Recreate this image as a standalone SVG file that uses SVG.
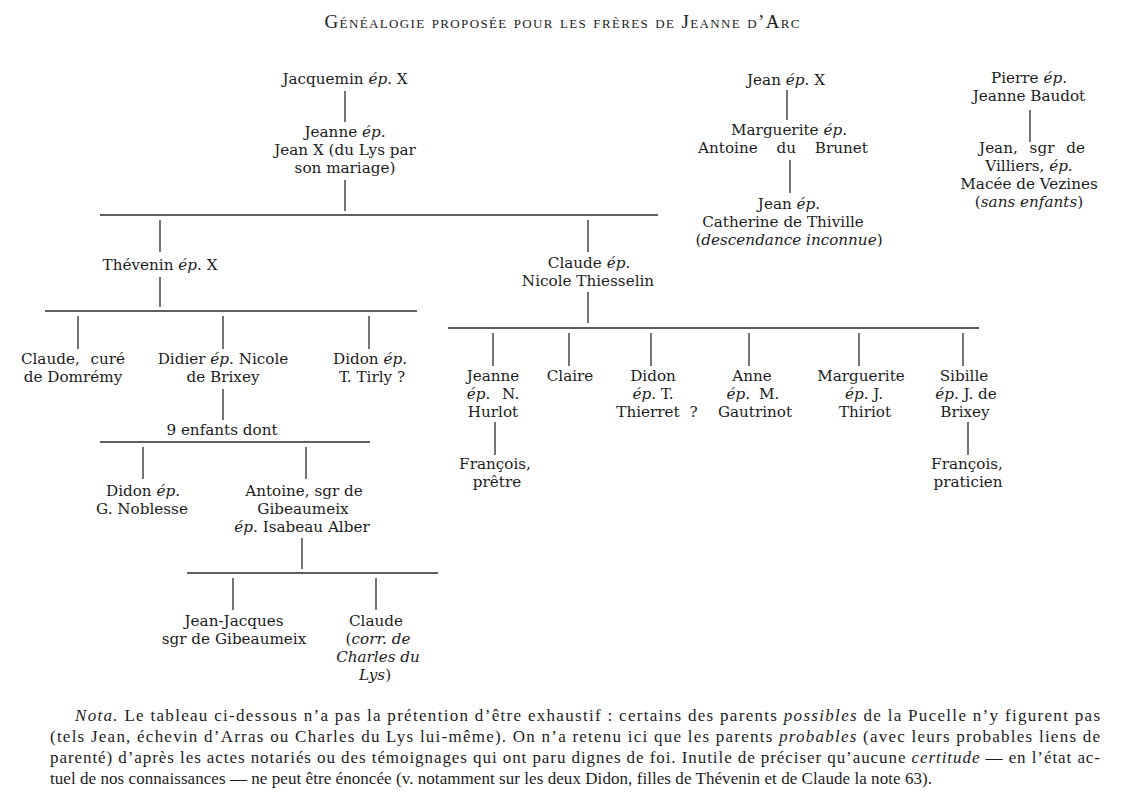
<svg xmlns="http://www.w3.org/2000/svg" width="1126" height="800" viewBox="0 0 1126 800">
<style>
.t{font-family:"DejaVu Serif","Liberation Serif",serif;font-size:15.2px;text-anchor:middle;fill:#1c1c1c}
.i{font-style:italic}
.title{font-family:"Liberation Serif","DejaVu Serif",serif;font-size:19px;font-variant:small-caps;fill:#1c1c1c;text-anchor:middle}
.n{font-family:"Liberation Serif","DejaVu Serif",serif;font-size:17px;fill:#1c1c1c}
#connectors line{stroke:#2a2a2a;stroke-width:1.3}
</style>
<rect width="1126" height="800" fill="#ffffff"/>
<text class="title" x="562" y="28" textLength="475" lengthAdjust="spacing">Généalogie proposée pour les frères de Jeanne d’Arc</text>

<g id="connectors">
<line x1="345" y1="91" x2="345" y2="122"/>
<line x1="345" y1="180" x2="345" y2="211"/>
<line x1="100" y1="215" x2="658" y2="215"/>
<line x1="160" y1="220" x2="160" y2="252"/>
<line x1="588" y1="220" x2="588" y2="252"/>
<line x1="160" y1="277" x2="160" y2="307"/>
<line x1="45" y1="311" x2="417" y2="311"/>
<line x1="78" y1="316" x2="78" y2="349"/>
<line x1="223" y1="316" x2="223" y2="349"/>
<line x1="369" y1="316" x2="369" y2="349"/>
<line x1="223" y1="389" x2="223" y2="420"/>
<line x1="100" y1="442" x2="370" y2="442"/>
<line x1="143" y1="447" x2="143" y2="479"/>
<line x1="306" y1="447" x2="306" y2="479"/>
<line x1="302" y1="538" x2="302" y2="569"/>
<line x1="187" y1="573" x2="438" y2="573"/>
<line x1="233" y1="578" x2="233" y2="610"/>
<line x1="376" y1="578" x2="376" y2="610"/>
<line x1="588" y1="292" x2="588" y2="323"/>
<line x1="448" y1="328" x2="979" y2="328"/>
<line x1="493" y1="333" x2="493" y2="366"/>
<line x1="569" y1="333" x2="569" y2="366"/>
<line x1="651" y1="333" x2="651" y2="366"/>
<line x1="749" y1="333" x2="749" y2="366"/>
<line x1="859" y1="333" x2="859" y2="366"/>
<line x1="963" y1="333" x2="963" y2="366"/>
<line x1="495" y1="422" x2="495" y2="455"/>
<line x1="968" y1="422" x2="968" y2="455"/>
<line x1="787" y1="90" x2="787" y2="120"/>
<line x1="790" y1="160" x2="790" y2="193"/>
<line x1="1030" y1="110" x2="1030" y2="142"/>
</g>

<g id="jacquemin"><text class="t" x="345" y="84">Jacquemin <tspan class="i">ép</tspan>. X</text></g>
<g id="jeanne"><text class="t" x="345" y="137">Jeanne <tspan class="i">ép</tspan>.</text><text class="t" x="345" y="155">Jean X (du Lys par</text><text class="t" x="345" y="173">son mariage)</text></g>
<g id="thevenin"><text class="t" x="160" y="270">Thévenin <tspan class="i">ép</tspan>. X</text></g>
<g id="claude-cure"><text class="t" x="73" y="364" word-spacing="6">Claude, curé</text><text class="t" x="73" y="382">de Domrémy</text></g>
<g id="didier"><text class="t" x="223" y="364">Didier <tspan class="i">ép</tspan>. Nicole</text><text class="t" x="223" y="382">de Brixey</text></g>
<g id="didon-tirly"><text class="t" x="370" y="364">Didon <tspan class="i">ép</tspan>.</text><text class="t" x="372" y="382">T. Tirly ?</text></g>
<g id="neuf-enfants"><text class="t" x="222" y="435">9 enfants dont</text></g>
<g id="didon-noblesse"><text class="t" x="143" y="496">Didon <tspan class="i">ép</tspan>.</text><text class="t" x="142" y="514">G. Noblesse</text></g>
<g id="antoine"><text class="t" x="304" y="496">Antoine, sgr de</text><text class="t" x="303" y="514">Gibeaumeix</text><text class="t" x="302" y="532"><tspan class="i">ép</tspan>. Isabeau Alber</text></g>
<g id="jean-jacques"><text class="t" x="234" y="626">Jean-Jacques</text><text class="t" x="234" y="644">sgr de Gibeaumeix</text></g>
<g id="claude-corr"><text class="t" x="376" y="626">Claude</text><text class="t" x="378" y="644">(<tspan class="i">corr. de</tspan></text><text class="t i" x="378" y="662">Charles du</text><text class="t" x="375" y="680"><tspan class="i">Lys</tspan>)</text></g>

<g id="claude-thiesselin"><text class="t" x="589" y="268">Claude <tspan class="i">ép</tspan>.</text><text class="t" x="588" y="286">Nicole Thiesselin</text></g>
<g id="jeanne-hurlot"><text class="t" x="493" y="381">Jeanne</text><text class="t" x="493" y="399" word-spacing="7"><tspan class="i">ép</tspan>. N.</text><text class="t" x="493" y="417">Hurlot</text></g>
<g id="claire"><text class="t" x="570" y="381">Claire</text></g>
<g id="didon-thierret"><text class="t" x="653" y="381">Didon</text><text class="t" x="653" y="399"><tspan class="i">ép</tspan>. T.</text><text class="t" x="657" y="417" word-spacing="5">Thierret ?</text></g>
<g id="anne"><text class="t" x="752" y="381">Anne</text><text class="t" x="753" y="399" word-spacing="4"><tspan class="i">ép</tspan>. M.</text><text class="t" x="755" y="417">Gautrinot</text></g>
<g id="marguerite-thiriot"><text class="t" x="861" y="381">Marguerite</text><text class="t" x="864" y="399"><tspan class="i">ép</tspan>. J.</text><text class="t" x="865" y="417">Thiriot</text></g>
<g id="sibille"><text class="t" x="964" y="381">Sibille</text><text class="t" x="966" y="399"><tspan class="i">ép</tspan>. J. de</text><text class="t" x="965" y="417">Brixey</text></g>
<g id="francois-pretre"><text class="t" x="495" y="469">François,</text><text class="t" x="497" y="487">prêtre</text></g>
<g id="francois-praticien"><text class="t" x="967" y="469">François,</text><text class="t" x="968" y="487">praticien</text></g>

<g id="jean-x"><text class="t" x="786" y="85">Jean <tspan class="i">ép</tspan>. X</text></g>
<g id="marguerite-brunet"><text class="t" x="789" y="135">Marguerite <tspan class="i">ép</tspan>.</text><text class="t" x="783" y="153" word-spacing="14">Antoine du Brunet</text></g>
<g id="jean-thiville"><text class="t" x="789" y="209">Jean <tspan class="i">ép</tspan>.</text><text class="t" x="783" y="227">Catherine de Thiville</text><text class="t" x="789" y="245">(<tspan class="i">descendance inconnue</tspan>)</text></g>
<g id="pierre"><text class="t" x="1029" y="83">Pierre <tspan class="i">ép</tspan>.</text><text class="t" x="1029" y="101">Jeanne Baudot</text></g>
<g id="jean-villiers"><text class="t" x="1032" y="153" word-spacing="7">Jean, sgr de</text><text class="t" x="1029" y="171">Villiers, <tspan class="i">ép</tspan>.</text><text class="t" x="1029" y="189">Macée de Vezines</text><text class="t" x="1029" y="207">(<tspan class="i">sans enfants</tspan>)</text></g>

<g id="nota">
<text class="n" x="75" y="721" textLength="1025" lengthAdjust="spacing"><tspan class="i">Nota.</tspan> Le tableau ci-dessous n’a pas la prétention d’être exhaustif : certains des parents <tspan class="i">possibles</tspan> de la Pucelle n’y figurent pas</text>
<text class="n" x="50" y="742" textLength="1050" lengthAdjust="spacing">(tels Jean, échevin d’Arras ou Charles du Lys lui-même). On n’a retenu ici que les parents <tspan class="i">probables</tspan> (avec leurs probables liens de</text>
<text class="n" x="50" y="763" textLength="1050" lengthAdjust="spacing">parenté) d’après les actes notariés ou des témoignages qui ont paru dignes de foi. Inutile de préciser qu’aucune <tspan class="i">certitude</tspan> — en l’état ac-</text>
<text class="n" x="50" y="784" textLength="882" lengthAdjust="spacing">tuel de nos connaissances — ne peut être énoncée (v. notamment sur les deux Didon, filles de Thévenin et de Claude la note 63).</text>
</g>
</svg>
